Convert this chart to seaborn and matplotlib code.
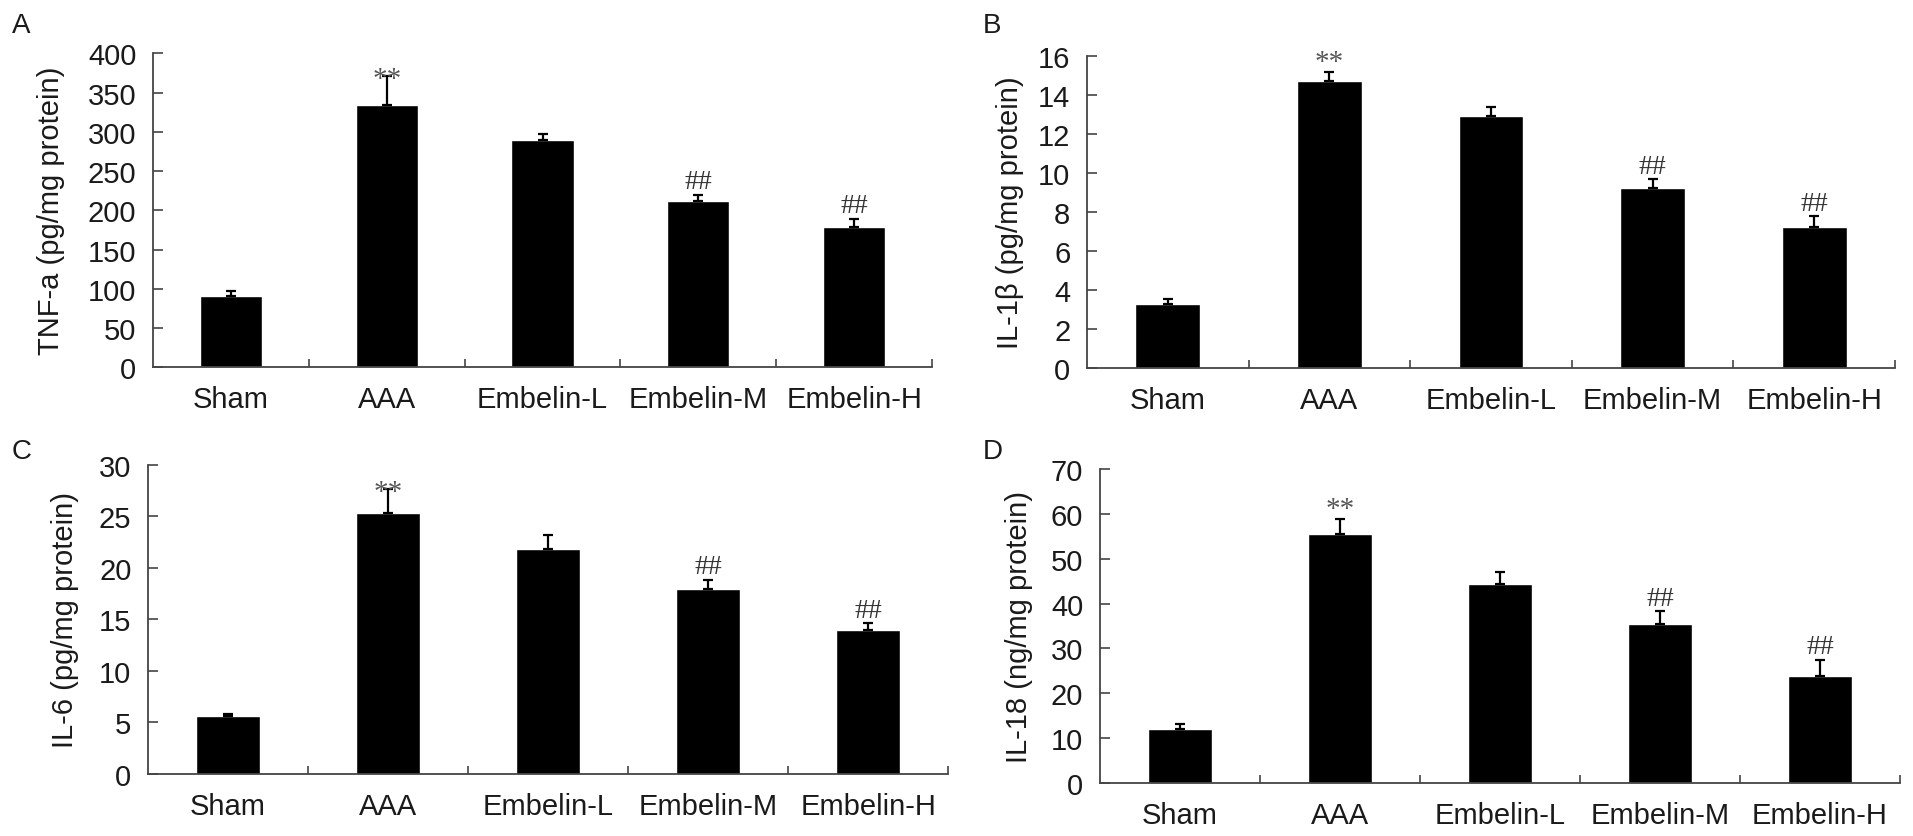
import numpy as np
import pandas as pd
import matplotlib
matplotlib.use('Agg')
import matplotlib.pyplot as plt
import seaborn as sns

# Groups shared by all four panels
groups = ['Sham', 'AAA', 'Embelin-L', 'Embelin-M', 'Embelin-H']

# Panel A - TNF-a
tnf_mean = [91, 334, 289, 212, 179]
tnf_err = [6.5, 37, 8, 8, 10.5]

# Panel B - IL-1beta
il1b_mean = [3.3, 14.7, 12.9, 9.25, 7.25]
il1b_err = [0.25, 0.45, 0.45, 0.45, 0.55]

# Panel C - IL-6
il6_mean = [5.65, 25.3, 21.8, 17.9, 14.0]
il6_err = [0.15, 2.3, 1.4, 0.95, 0.65]

# Panel D - IL-18
il18_mean = [12.0, 55.6, 44.4, 35.4, 23.8]
il18_err = [1.1, 3.2, 2.6, 2.9, 3.7]

# significance marks per group
marks = ['', '**', '', '##', '##']

sns.set_theme(style='white')
plt.rcParams['font.family'] = ['Liberation Sans', 'DejaVu Sans']

fig = plt.figure(figsize=(19.13, 8.37), dpi=100)

panels = [
    # letter, rect, means, errs, ylabel, ymax, step, label x, star pad
    ('A', [0.0800, 0.5600, 0.4072, 0.3751], tnf_mean, tnf_err,
     'TNF-a (pg/mg protein)', 400, 50, -0.113, -7),
    ('B', [0.5682, 0.5588, 0.4224, 0.3735], il1b_mean, il1b_err,
     'IL-1β (pg/mg protein)', 16, 2, -0.078, 2),
    ('C', [0.0774, 0.0741, 0.4182, 0.3695], il6_mean, il6_err,
     'IL-6 (pg/mg protein)', 30, 5, -0.086, -7),
    ('D', [0.5750, 0.0633, 0.4182, 0.3752], il18_mean, il18_err,
     'IL-18 (ng/mg protein)', 70, 10, -0.084, 2),
]

axis_col = '#444444'
text_col = '#1a1a1a'

for letter, rect, means, errs, ylabel, ymax, step, lab_x, star_pad in panels:
    ax = fig.add_axes(rect)
    df = pd.DataFrame({'group': groups, 'value': means})
    sns.barplot(data=df, x='group', y='value', color='black', saturation=1,
                width=0.4, errorbar=None, ax=ax)

    # bar centres taken from the drawn bars
    centres = [p.get_x() + p.get_width() / 2 for p in ax.patches]
    tops = [p.get_height() for p in ax.patches]
    ax.errorbar(centres, tops, yerr=[np.zeros(len(errs)), errs], fmt='none',
                ecolor='black', elinewidth=1.6, capsize=3.6, capthick=1.6)

    for cx, top, err, mk in zip(centres, tops, errs, marks):
        if not mk:
            continue
        if mk == '**':
            ax.annotate(mk, xy=(cx, top + err), xytext=(0, star_pad),
                        textcoords='offset points', ha='center', va='baseline',
                        fontsize=21, color='#555555',
                        family=['Liberation Serif', 'DejaVu Serif'])
        else:
            ax.annotate(mk, xy=(cx, top + err), xytext=(0, 4.5),
                        textcoords='offset points', ha='center', va='baseline',
                        fontsize=20, color='#333333',
                        family=['Liberation Serif', 'DejaVu Serif'])

    ax.set_xlim(-0.5, len(groups) - 0.5)
    ax.set_ylim(0, ymax)
    ax.set_yticks(np.arange(0, ymax + step, step))
    ax.set_xticks(range(len(groups)))
    ax.set_xticklabels(groups)
    ax.set_xticks(np.arange(0.5, len(groups), 1.0), minor=True)

    ax.tick_params(axis='x', which='major', length=0, pad=13,
                   labelsize=21, labelcolor=text_col)
    ax.tick_params(axis='x', which='minor', direction='in', length=5.5,
                   width=1.2, color=axis_col, bottom=True)
    ax.tick_params(axis='y', which='major', direction='in', length=7,
                   width=1.2, color=axis_col, pad=12, left=True,
                   labelsize=21, labelcolor=text_col)

    sns.despine(ax=ax)
    for side in ['left', 'bottom']:
        ax.spines[side].set_color(axis_col)
        ax.spines[side].set_linewidth(1.3)

    ax.set_xlabel('')
    ax.set_ylabel(ylabel, fontsize=21, color=text_col)
    ax.yaxis.set_label_coords(lab_x, 0.5)
    ax.patch.set_alpha(0)

# panel letters
fig.text(0.0063, 0.985, 'A', fontsize=20, color=text_col, va='top')
fig.text(0.5138, 0.985, 'B', fontsize=20, color=text_col, va='top')
fig.text(0.0063, 0.476, 'C', fontsize=20, color=text_col, va='top')
fig.text(0.5138, 0.476, 'D', fontsize=20, color=text_col, va='top')

fig.savefig('out.png', dpi=100, facecolor='white')
